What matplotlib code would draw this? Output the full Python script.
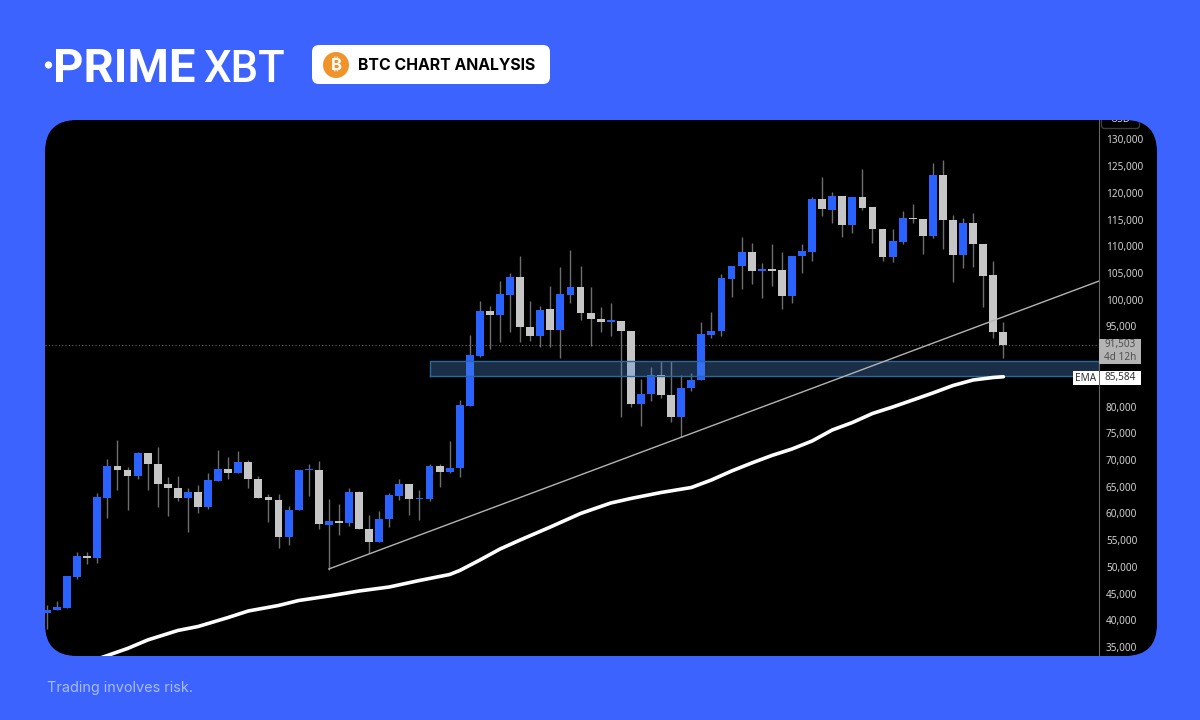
import matplotlib
matplotlib.use("Agg")
import matplotlib.pyplot as plt
from matplotlib.patches import FancyBboxPatch, Circle
from matplotlib.transforms import Bbox

# weekly candles
opens = [41360, 41860, 42360, 48100, 52090, 51590, 62890, 68880, 68190, 67010, 71250, 69190,
         65570, 64760, 62890, 63950, 61270, 66010, 68320, 67510, 69570, 66510, 63010, 62580,
         55650, 60640, 68070, 68070, 57830, 58580, 58270, 64070, 57150, 54710, 58960, 63260,
         65450, 62640, 62640, 68880, 67690, 68500, 80170, 89530, 97830, 97080, 100950, 104320,
         94960, 93280, 98270, 94280, 100950, 102390, 97580, 96330, 95900, 96080, 94210, 80550,
         82300, 85910, 82230, 78050, 83540, 84920, 93460, 94090, 103890, 106260, 108940, 105450,
         105700, 105510, 100700, 108190, 109000, 118920, 116860, 119360, 114060, 119240, 117300, 113310,
         108000, 110870, 115300, 115120, 112000, 123290, 114990, 108440, 114430, 110380, 104570, 94030]
highs = [42860, 43670, 48220, 52720, 52840, 63760, 70130, 73750, 68750, 71440, 71250, 72500,
         66880, 67070, 64700, 65320, 67510, 71870, 70500, 71750, 70000, 67070, 63640, 63640,
         61390, 68130, 69250, 69880, 62640, 61700, 64820, 64200, 59710, 60520, 63890, 66450,
         65450, 64390, 69250, 69250, 73560, 81230, 93400, 99770, 98830, 103450, 104950, 108250,
         99830, 98830, 102640, 106190, 109250, 106380, 102450, 98710, 99460, 96080, 94210, 85170,
         87350, 88540, 88540, 85910, 86230, 95770, 97650, 104820, 106380, 111810, 110690, 106820,
         110440, 108880, 108250, 110440, 119300, 123040, 120110, 119360, 119240, 124420, 117300, 113310,
         113250, 116680, 117860, 115120, 125660, 126160, 115870, 115240, 116180, 110380, 107320, 95900]
lows = [38300, 41860, 42230, 47660, 50470, 50780, 59210, 64390, 60640, 66380, 64390, 61270,
        59520, 62330, 56460, 60020, 60770, 66010, 66510, 67510, 64760, 62890, 58460, 53470,
        54090, 60640, 63260, 57020, 49410, 56020, 57650, 57020, 52530, 54710, 57400, 62510,
        59710, 58770, 62390, 64890, 67510, 66760, 80170, 89220, 90720, 92030, 94030, 92030,
        92280, 91220, 91090, 89030, 99330, 96210, 91400, 93900, 93280, 78110, 79860, 76430,
        81110, 81550, 77050, 74370, 82980, 84920, 92780, 93280, 100580, 102010, 102950, 100390,
        102640, 98210, 99460, 104950, 107320, 115740, 114430, 111810, 112560, 116800, 110560, 107320,
        107130, 110440, 114310, 108500, 111560, 109440, 103390, 105990, 106190, 98710, 92780, 89160]
closes = [41920, 42480, 48220, 52030, 51590, 63010, 68880, 68070, 67010, 71250, 69190, 65510,
          64700, 62890, 63950, 61270, 66200, 68320, 67510, 69570, 66450, 62890, 62450, 55650,
          60640, 68070, 68260, 57960, 58580, 58270, 64070, 57020, 54710, 59020, 63390, 65450,
          62640, 62830, 68880, 67690, 68570, 80240, 89660, 97830, 97080, 101020, 104320, 94900,
          93280, 98140, 94280, 101140, 102390, 97460, 96330, 95900, 96150, 94090, 80420, 82420,
          85910, 82170, 78050, 83540, 85040, 93590, 94150, 104010, 106380, 108940, 105450, 105700,
          105450, 100770, 108250, 109060, 118920, 117050, 119360, 114060, 119240, 117180, 113250, 108000,
          111000, 115240, 115120, 112000, 123290, 114870, 108440, 114430, 110380, 104450, 93900, 91503]

# EMA, read at some of the candles
ema_idx = [5, 8, 10, 13, 15, 18, 20, 23, 25, 28, 31, 34, 37, 40, 41, 43, 45, 47, 50, 53,
           56, 58, 61, 64, 66, 68, 70, 72, 74, 76, 78, 80, 82, 84, 86, 88, 90, 92, 94, 95]
ema_vals = [32750, 34720, 36310, 38090, 38830, 40520, 41740, 42770, 43700, 44540, 45480, 46230,
            47450, 48570, 49320, 51280, 53340, 55030, 57460, 59990, 61950, 62800, 63920, 64850,
            66260, 67940, 69440, 70850, 72060, 73560, 75620, 77020, 78710, 79920, 81230, 82550,
            83950, 84980, 85450, 85584]

trend_idx = [28, 104.5]
trend_vals = [49600, 103500]
zone_start = 38
zone_low = 85730
zone_high = 88540
last_price = 91503
ema_last = 85584
# 85,000 and 90,000 sit under the price tags, so the scale does not show them
y_ticks = [35000, 40000, 45000, 50000, 55000, 60000, 65000, 70000, 75000, 80000,
           95000, 100000, 105000, 110000, 115000, 120000, 125000, 130000]

BG = "#3d63ff"
UP = "#2962ff"
DOWN = "#c6c6c6"
WICK = "#6e6e6e"
SYMBOL_FONTS = ["Inter", "Noto Sans", "Roboto", "Open Sans", "Lato", "Liberation Sans", "DejaVu Sans"]

plt.rcParams["font.family"] = ["Inter", "DejaVu Sans"]

fig = plt.figure(figsize=(12, 7.2), dpi=100, facecolor=BG)

# full figure layer in pixels for the header, footer and the black card
bg = fig.add_axes([0, 0, 1, 1], zorder=0)
bg.set_xlim(0, 1200)
bg.set_ylim(720, 0)
bg.axis("off")

card = FancyBboxPatch((45 + 32, 120 + 32), 1112 - 64, 536 - 64,
                      boxstyle="round,pad=32,rounding_size=32", fc="black", ec="none")
bg.add_patch(card)

# header
bg.add_patch(Circle((48.5, 65), 3.6, fc="white", ec="none"))
bg.text(53, 82, "PRIME", color="white", fontsize=34, fontweight="bold", va="baseline", ha="left", family="Roboto")
bg.text(203, 82, "XBT", color="white", fontsize=31.5, fontweight="medium", va="baseline", ha="left", family="Roboto")
bg.add_patch(FancyBboxPatch((318, 51), 226, 27, boxstyle="round,pad=6,rounding_size=7", fc="white", ec="none"))
bg.add_patch(Circle((336, 65), 13, fc="#f0932b", ec="none"))
bg.text(336, 65.5, "\u20bf", color="white", fontsize=12, fontweight="bold", ha="center", va="center",
        family=SYMBOL_FONTS)
bg.text(358, 65.5, "BTC CHART ANALYSIS", color="black", fontsize=11.4, fontweight="bold", ha="left", va="center")
bg.text(47, 688, "Trading involves risk.", color="#a9bcff", fontsize=10.4, ha="left", va="center")

# price chart, its right edge is the price scale
ax = fig.add_axes([45 / 1200, 64 / 720, 1054 / 1200, 536 / 720], zorder=1)
ax.patch.set_visible(False)
ax.set_xlim(-0.2, 104.5)
ax.set_ylim(33312, 133650)

idx = range(len(opens))
ax.vlines(idx, lows, highs, color=WICK, lw=1, zorder=2)
colors = [UP if c >= o else DOWN for o, c in zip(opens, closes)]
bottoms = [min(o, c) for o, c in zip(opens, closes)]
heights = [abs(c - o) for o, c in zip(opens, closes)]
ax.bar(idx, heights, bottom=bottoms, width=0.78, color=colors, zorder=3)

ax.axhline(last_price, color="#6a6a6a", lw=0.8, ls=(0, (1, 2)), zorder=1)
ax.fill_between([zone_start, 104.5], zone_low, zone_high, facecolor="#508cdc", alpha=0.33, lw=0, zorder=4)
ax.plot([zone_start, 104.5, 104.5, zone_start, zone_start],
        [zone_low, zone_low, zone_high, zone_high, zone_low], color="#2a6a9a", lw=1, zorder=4)
ax.plot(trend_idx, trend_vals, color="#b4b4b4", lw=1, zorder=5)
ax.plot(ema_idx, ema_vals, color="white", lw=2.6, solid_capstyle="round", zorder=6)

for art in ax.get_children():
    art.set_clip_path(card)

ax.yaxis.tick_right()
ax.set_yticks(y_ticks)
ax.set_yticklabels([f"{t:,}" for t in y_ticks], family="Noto Sans", fontsize=7.2, color="#d2d2d2")
ax.tick_params(axis="y", length=0, pad=5)
ax.set_xticks([])
for name, spine in ax.spines.items():
    spine.set_visible(name == "right")
    spine.set_color("#666666")

# labels on the scale, the USD one is cut by the top of the card
usd_box = FancyBboxPatch((1103, 108), 35, 19, boxstyle="round,pad=1.5,rounding_size=3", fc="none", ec="#3c3c3c", lw=1)
bg.add_patch(usd_box)
usd_box.set_clip_path(card)
usd_text = bg.text(1120, 119, "USD", color="#d2d2d2", fontsize=7.2, family="Noto Sans", ha="center", va="center")
usd_text.set_clip_on(True)
usd_text.set_clip_box(Bbox.from_extents(0, 0, 1200, 600))

label_ax = fig.add_axes([0, 0, 1, 1], zorder=2)
label_ax.set_xlim(0, 1200)
label_ax.set_ylim(720, 0)
label_ax.axis("off")
label_ax.fill_between([1099, 1141], 339, 364, fc="#b4b4b4", lw=0)
label_ax.text(1120, 345, f"{last_price:,}", color="#505050", fontsize=7.2, family="Noto Sans", ha="center", va="center")
label_ax.text(1120, 357.5, "4d 12h", color="#505050", fontsize=7.2, family="Noto Sans", ha="center", va="center")
label_ax.fill_between([1073, 1099], 371, 385, fc="white", lw=0)
label_ax.fill_between([1100, 1141], 371, 385, fc="white", lw=0)
label_ax.text(1086, 378.5, "EMA", color="#333333", fontsize=7.2, family="Noto Sans", ha="center", va="center")
label_ax.text(1120, 377.5, f"{ema_last:,}", color="#333333", fontsize=7.2, family="Noto Sans", ha="center", va="center")

fig.savefig("out.png", dpi=100, facecolor=BG)
